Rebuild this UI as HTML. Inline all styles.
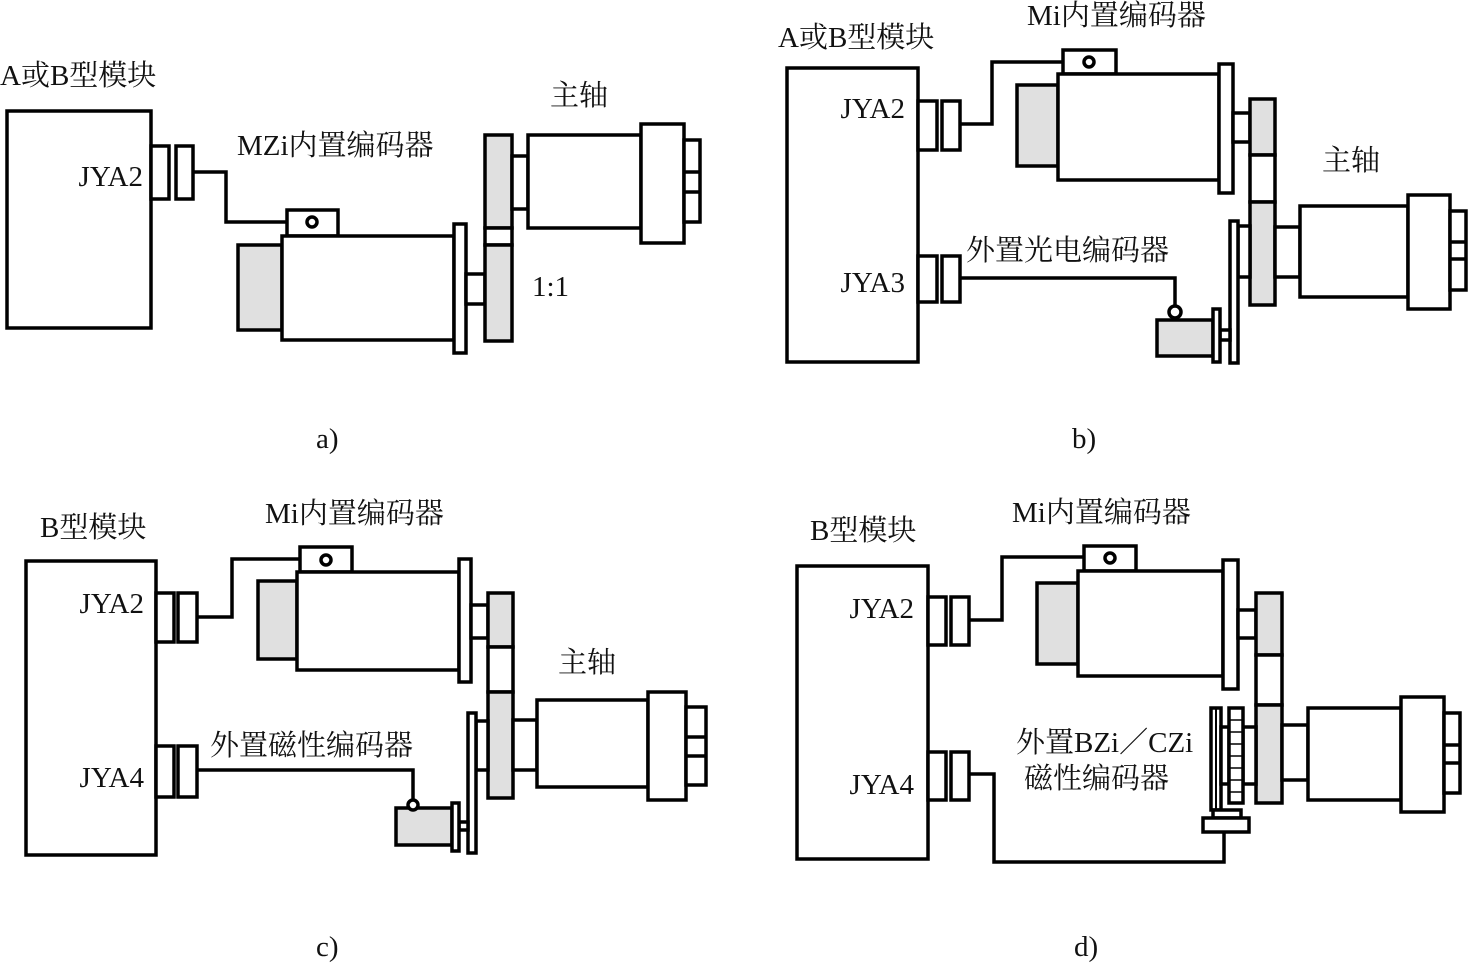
<!DOCTYPE html>
<html><head><meta charset="utf-8"><style>
html,body{margin:0;padding:0;background:#fff;}
svg{display:block;}
text{font-family:"Liberation Serif","Noto Serif CJK SC","Noto Sans CJK SC",serif;font-size:29px;fill:#111;}
</style></head><body>
<svg width="1469" height="963" viewBox="0 0 1469 963" xmlns="http://www.w3.org/2000/svg">
<g fill="#fff" stroke="#000" stroke-width="3.5">
<!-- Panel a -->
<rect x="7" y="111" width="144" height="217"/>
<rect x="151" y="146" width="18" height="53"/>
<rect x="176" y="146" width="17" height="53"/>
<polyline points="193,172 226,172 226,222 287,222" fill="none"/>
<rect x="287" y="210" width="51" height="26"/>
<circle cx="312" cy="222" r="5"/>
<rect x="238" y="245" width="44" height="85" fill="#e0e0e0"/>
<rect x="282" y="236" width="172" height="104"/>
<rect x="454" y="224" width="12" height="129"/>
<rect x="466" y="274" width="19" height="30"/>
<rect x="485" y="135" width="27" height="93" fill="#e0e0e0"/>
<rect x="485" y="228" width="27" height="17"/>
<rect x="485" y="245" width="27" height="96" fill="#e0e0e0"/>
<rect x="512" y="156" width="16" height="53"/>
<rect x="528" y="135" width="113" height="93"/>
<rect x="641" y="124" width="43" height="119"/>
<rect x="684" y="140" width="16" height="82"/>
<line x1="684" y1="172" x2="700" y2="172"/><line x1="684" y1="192" x2="700" y2="192"/>

<!-- Panel b -->
<rect x="787" y="68" width="131" height="294"/>
<rect x="918" y="101" width="19" height="49"/>
<rect x="942" y="101" width="18" height="49"/>
<rect x="918" y="256" width="19" height="46"/>
<rect x="942" y="256" width="18" height="46"/>
<polyline points="960,124 992,124 992,62 1063,62" fill="none"/>
<rect x="1063" y="50" width="53" height="24"/>
<circle cx="1089" cy="62" r="5"/>
<rect x="1017" y="85" width="41" height="81" fill="#e0e0e0"/>
<rect x="1058" y="74" width="161" height="106"/>
<rect x="1219" y="64" width="14" height="129"/>
<rect x="1233" y="113" width="17" height="29"/>
<rect x="1250" y="99" width="25" height="56" fill="#e0e0e0"/>
<rect x="1250" y="155" width="25" height="47"/>
<rect x="1250" y="202" width="25" height="103" fill="#e0e0e0"/>
<rect x="1275" y="227" width="25" height="50"/>
<rect x="1300" y="206" width="108" height="91"/>
<rect x="1408" y="195" width="42" height="114"/>
<rect x="1450" y="211" width="16" height="79"/>
<line x1="1450" y1="242" x2="1466" y2="242"/><line x1="1450" y1="259" x2="1466" y2="259"/>
<rect x="1238" y="226" width="12" height="51"/>
<rect x="1230" y="221" width="8" height="142"/>
<rect x="1220" y="330" width="10" height="10"/>
<rect x="1157" y="320" width="56" height="36" fill="#e0e0e0"/>
<rect x="1213" y="309" width="7" height="53"/>
<polyline points="960,278 1175,278 1175,306" fill="none"/>
<circle cx="1175" cy="312" r="6"/>

<!-- Panel c -->
<rect x="26" y="561" width="130" height="294"/>
<rect x="156" y="593" width="18" height="49"/>
<rect x="178" y="593" width="19" height="49"/>
<rect x="156" y="746" width="18" height="51"/>
<rect x="178" y="746" width="19" height="51"/>
<polyline points="197,617 232,617 232,559 300,559" fill="none"/>
<rect x="300" y="547" width="52" height="25"/>
<circle cx="326" cy="560" r="5"/>
<rect x="258" y="581" width="39" height="78" fill="#e0e0e0"/>
<rect x="297" y="572" width="162" height="98"/>
<rect x="459" y="559" width="12" height="123"/>
<rect x="471" y="605" width="17" height="33"/>
<rect x="488" y="593" width="25" height="54" fill="#e0e0e0"/>
<rect x="488" y="647" width="25" height="45"/>
<rect x="488" y="692" width="25" height="106" fill="#e0e0e0"/>
<rect x="513" y="720" width="24" height="50"/>
<rect x="537" y="700" width="111" height="87"/>
<rect x="648" y="692" width="38" height="108"/>
<rect x="686" y="707" width="20" height="78"/>
<line x1="686" y1="737" x2="706" y2="737"/><line x1="686" y1="756" x2="706" y2="756"/>
<rect x="476" y="721" width="12" height="49"/>
<rect x="468" y="713" width="8" height="140"/>
<rect x="459" y="822" width="9" height="8"/>
<rect x="396" y="808" width="56" height="37" fill="#e0e0e0"/>
<rect x="452" y="803" width="7" height="48"/>
<polyline points="197,770 413,770 413,800" fill="none"/>
<circle cx="413" cy="805" r="5"/>

<!-- Panel d -->
<rect x="797" y="566" width="131" height="293"/>
<rect x="928" y="597" width="18" height="48"/>
<rect x="951" y="597" width="18" height="48"/>
<rect x="928" y="752" width="18" height="48"/>
<rect x="951" y="752" width="18" height="48"/>
<polyline points="969,620 1002,620 1002,557 1084,557" fill="none"/>
<rect x="1084" y="546" width="52" height="25"/>
<circle cx="1110" cy="558" r="5"/>
<rect x="1037" y="583" width="41" height="81" fill="#e0e0e0"/>
<rect x="1078" y="571" width="145" height="105"/>
<rect x="1223" y="560" width="15" height="129"/>
<rect x="1238" y="610" width="18" height="28"/>
<rect x="1256" y="593" width="26" height="62" fill="#e0e0e0"/>
<rect x="1256" y="655" width="26" height="50"/>
<rect x="1256" y="705" width="26" height="98" fill="#e0e0e0"/>
<rect x="1282" y="725" width="26" height="55"/>
<rect x="1308" y="708" width="93" height="92"/>
<rect x="1401" y="697" width="43" height="115"/>
<rect x="1444" y="713" width="16" height="80"/>
<line x1="1444" y1="745" x2="1460" y2="745"/><line x1="1444" y1="763" x2="1460" y2="763"/>
<rect x="1243" y="727" width="13" height="57"/>
<rect x="1211" y="708" width="10" height="102"/>
<line x1="1216" y1="708" x2="1216" y2="810" stroke-width="2"/>
<rect x="1221" y="727" width="8" height="57"/>
<rect x="1229" y="708" width="14" height="95"/>
<g stroke-width="1.5">
<line x1="1229" y1="720" x2="1243" y2="720"/><line x1="1229" y1="732" x2="1243" y2="732"/>
<line x1="1229" y1="744" x2="1243" y2="744"/><line x1="1229" y1="756" x2="1243" y2="756"/>
<line x1="1229" y1="768" x2="1243" y2="768"/><line x1="1229" y1="780" x2="1243" y2="780"/>
<line x1="1229" y1="792" x2="1243" y2="792"/>
</g>
<rect x="1213" y="810" width="28" height="8"/>
<rect x="1203" y="818" width="46" height="14"/>
<polyline points="969,774 994,774 994,862 1224,862 1224,832" fill="none"/>
</g>

<!-- Labels -->
<text x="0" y="85">A或B型模块</text>
<text x="143" y="186" text-anchor="end">JYA2</text>
<text x="237" y="155">MZi内置编码器</text>
<text x="550" y="105">主轴</text>
<text x="532" y="296" font-size="25">1:1</text>
<text x="316" y="448" font-size="25">a)</text>

<text x="778" y="47">A或B型模块</text>
<text x="905" y="118" text-anchor="end">JYA2</text>
<text x="905" y="292" text-anchor="end">JYA3</text>
<text x="1027" y="25">Mi内置编码器</text>
<text x="966" y="260">外置光电编码器</text>
<text x="1322" y="170">主轴</text>
<text x="1072" y="448" font-size="25">b)</text>

<text x="40" y="537">B型模块</text>
<text x="144" y="613" text-anchor="end">JYA2</text>
<text x="144" y="787" text-anchor="end">JYA4</text>
<text x="265" y="523">Mi内置编码器</text>
<text x="210" y="755">外置磁性编码器</text>
<text x="558" y="672">主轴</text>
<text x="316" y="956" font-size="25">c)</text>

<text x="810" y="540">B型模块</text>
<text x="914" y="618" text-anchor="end">JYA2</text>
<text x="914" y="794" text-anchor="end">JYA4</text>
<text x="1012" y="522">Mi内置编码器</text>
<text x="1016" y="752">外置BZi／CZi</text>
<text x="1024" y="788">磁性编码器</text>
<text x="1074" y="956" font-size="25">d)</text>
</svg>
</body></html>
